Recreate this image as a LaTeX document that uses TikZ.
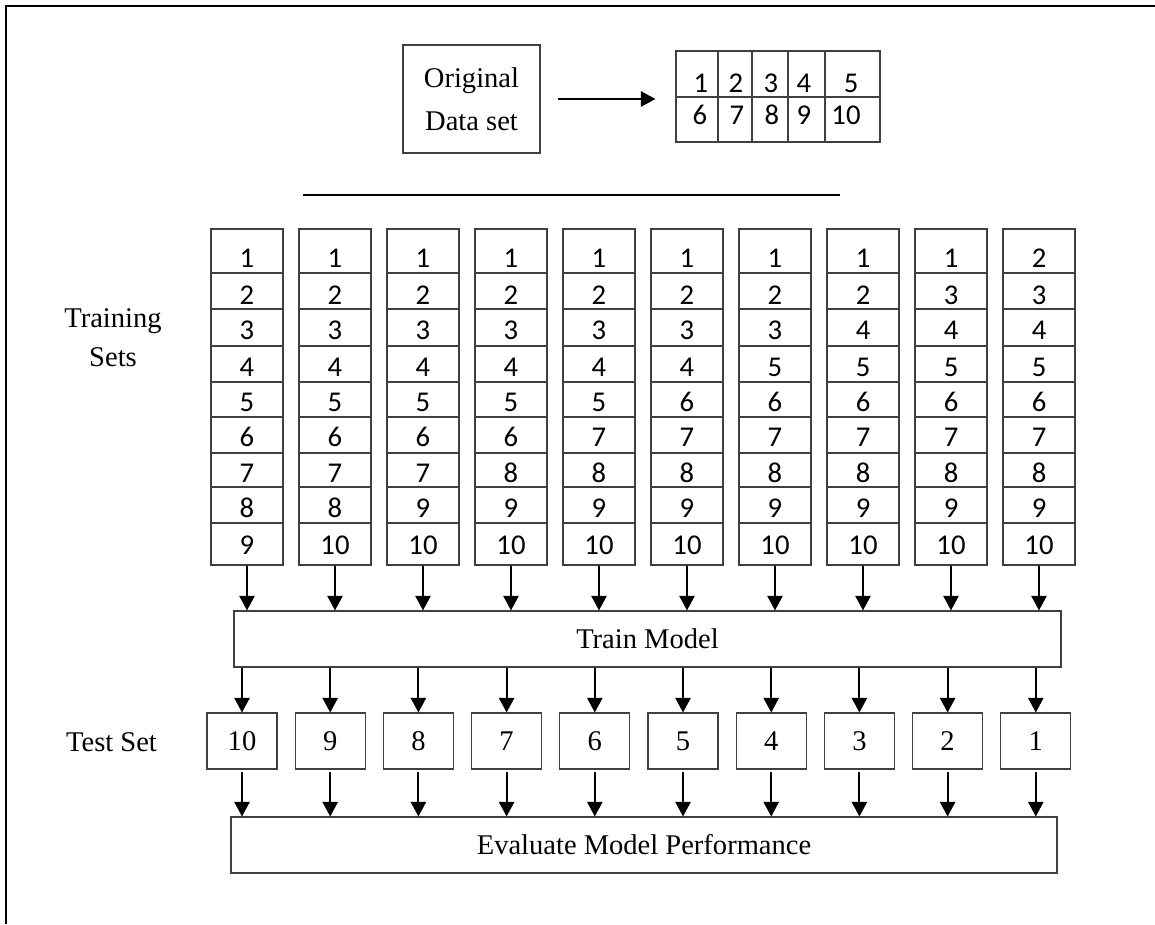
\documentclass[tikz,border=0pt]{standalone}
\usepackage{fontspec}
\setmainfont{Liberation Serif}
\newfontfamily\calibri{Carlito}
\usetikzlibrary{arrows.meta,calc,positioning}
\definecolor{BoxGray}{RGB}{64,64,64}

\tikzset{
  cellbox/.style={draw=BoxGray,line width=0.8pt,inner sep=0pt},
  numtext/.style={inner sep=0pt,font=\calibri\fontsize{21.5}{24}\selectfont},
  plaintext/.style={inner sep=0pt,align=center,font=\fontsize{21.4}{32}\selectfont},
  flow/.style={-{Triangle[length=11pt,width=11.5pt]},line width=1.4pt}
}

\begin{document}
\begin{tikzpicture}[x=0.75pt,y=-0.75pt]
      \useasboundingbox (0,0) rectangle (1155,924);
      \draw[line width=1.8pt] (6,924) -- (6,6) -- (1155,6);

      \node[cellbox,plaintext,minimum width=102.75pt,minimum height=81pt] (orig) at (471.5,99) {Original\\Data set};
      \node[cellbox,minimum width=153pt,minimum height=68.25pt] (folds) at (778,96.5) {};
      \draw[BoxGray,line width=0.8pt] (676,97) -- (880,97);
      \foreach \x in {718,752,788,825}
        \draw[BoxGray,line width=0.8pt] (\x,51) -- (\x,142);
      \foreach \n/\x in {1/701,2/736,3/771,4/804,5/851}
        \node[numtext] (top\n) at (\x,83) {\n};
      \foreach \n/\x in {6/700,7/737,8/772,9/804,10/846}
        \node[numtext] (bot\n) at (\x,115) {\n};
      \draw[flow,shorten <=12.75pt,shorten >=15pt] (orig.east) -- (orig.east -| folds.west);

      \draw[line width=1.5pt] (303,195) -- (840,195);

      \node[plaintext,font=\fontsize{21.4}{29}\selectfont] (trainlabel) at (113,338) {Training\\Sets};
      \node[plaintext] (testlabel) at (111.5,742) {Test Set};

      \foreach \c in {1,...,10}{
        \pgfmathsetmacro{\cx}{247+88*(\c-1)}
        \node[cellbox,minimum width=54pt,minimum height=252pt] (col\c) at (\cx,397) {};
        \foreach \y in {273,309,346,382,417,453,487,523}
          \draw[BoxGray,line width=0.8pt] (\cx-36,\y) -- (\cx+36,\y);
        \foreach \row/\ty in {1/258,2/295,3/330,4/367,5/402,6/437,7/473,8/508,9/545}{
          \pgfmathtruncatemacro{\v}{ifthenelse(\row<11-\c,\row,\row+1)}
          \node[numtext] (n\c-\row) at (\cx,\ty) {\v};
        }
      }

      \node[cellbox,plaintext,minimum width=620.25pt,minimum height=42pt] (train) at (647.5,639) {Train Model};
      \foreach \c in {1,...,10}{
        \pgfmathsetmacro{\tx}{242+88.2*(\c-1)}
        \pgfmathtruncatemacro{\t}{11-\c}
        \node[cellbox,plaintext,minimum width=52.5pt,minimum height=42pt] (test\c) at (\tx,741) {\t};
      }
      \node[cellbox,plaintext,minimum width=619.5pt,minimum height=42pt] (eval) at (644,845) {Evaluate Model Performance};

      \foreach \c in {1,...,10}{
        \draw[flow] (col\c.south) -- (col\c.south |- train.north);
        \draw[flow] (test\c.north |- train.south) -- (test\c.north);
        \draw[flow,shorten <=2pt] (test\c.south) -- (test\c.south |- eval.north);
      }
\end{tikzpicture}
\end{document}
